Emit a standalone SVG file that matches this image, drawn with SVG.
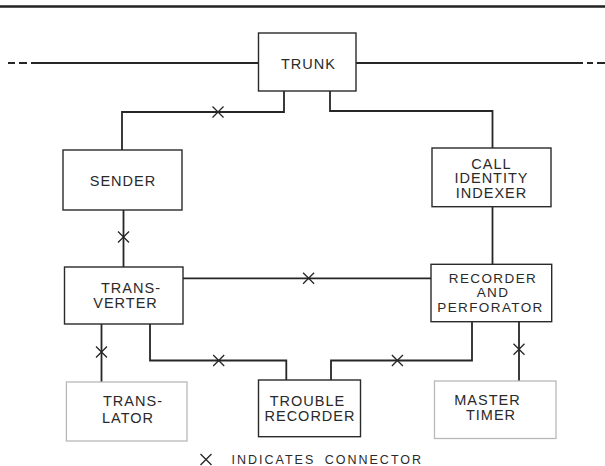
<svg xmlns="http://www.w3.org/2000/svg" width="605" height="466" viewBox="0 0 605 466">
<style>
  .box { fill: #ffffff; stroke: #2a2a2a; stroke-width: 1.4; }
  .box.light { stroke: #b8b8b8; stroke-width: 1.3; }
  .wire { fill: none; stroke: #262626; stroke-width: 1.8; }
  .mark { fill: none; stroke: #262626; stroke-width: 1.3; }
  .lbl { font-family: "Liberation Sans", Arial, sans-serif; font-size: 14.5px; letter-spacing: 1px; fill: #2a2a2a; text-anchor: middle; }
  .lbl.tight { font-size: 13.5px; letter-spacing: 1.4px; }
  .legend { font-family: "Liberation Sans", Arial, sans-serif; font-size: 12.5px; letter-spacing: 2px; word-spacing: 4px; fill: #2a2a2a; }
</style>
<defs>
  <path id="x" class="mark" d="M-5.5,-5.5 L5.5,5.5 M-5.5,5.5 L5.5,-5.5"/>
</defs>
<rect width="605" height="466" fill="#ffffff"/>

<!-- top rule -->
<line x1="0" y1="6.5" x2="605" y2="6.5" stroke="#222" stroke-width="2.5"/>

<g id="connectors">
  <!-- through trunk line -->
  <path class="wire" d="M8,63 H15 M19,63 H27 M31,63 H258.5"/>
  <path class="wire" d="M356,63 H583 M587,63 H593 M597,63 H605"/>
  <!-- trunk to sender -->
  <path class="wire" d="M284,91 V112 H122 V150"/>
  <use href="#x" x="218" y="112"/>
  <!-- trunk to call identity indexer -->
  <path class="wire" d="M330,91 V111 H492.5 V148"/>
  <!-- sender to transverter -->
  <path class="wire" d="M123.5,210 V267"/>
  <use href="#x" x="123.5" y="237"/>
  <!-- transverter to recorder -->
  <path class="wire" d="M183,278.3 H431"/>
  <use href="#x" x="308.6" y="278.3"/>
  <!-- call identity indexer to recorder -->
  <path class="wire" d="M492.5,206.7 V264.3"/>
  <!-- transverter to translator -->
  <path class="wire" d="M101.5,324 V382"/>
  <use href="#x" x="101.5" y="352"/>
  <!-- transverter to trouble recorder -->
  <path class="wire" d="M150,324 V360.5 H286.3 V380"/>
  <use href="#x" x="218.7" y="360.5"/>
  <!-- trouble recorder to recorder -->
  <path class="wire" d="M331,380 V360.5 H472 V321.7"/>
  <use href="#x" x="397.4" y="360.5"/>
  <!-- recorder to master timer -->
  <path class="wire" d="M519,321.7 V381"/>
  <use href="#x" x="519" y="349.3"/>
</g>

<g id="trunk">
  <rect class="box" x="258.5" y="33" width="97.5" height="58"/>
  <text class="lbl" x="308.5" y="68.7">TRUNK</text>
</g>

<g id="sender">
  <rect class="box" x="63" y="150" width="119" height="60"/>
  <text class="lbl" x="123" y="186.3">SENDER</text>
</g>

<g id="call-identity-indexer">
  <rect class="box" x="432" y="148" width="119" height="58.7"/>
  <text class="lbl" x="491.5" y="168.5">CALL</text>
  <text class="lbl" x="491.5" y="183">IDENTITY</text>
  <text class="lbl" x="491.5" y="198">INDEXER</text>
</g>

<g id="transverter">
  <rect class="box" x="64.5" y="267" width="118.5" height="57"/>
  <text class="lbl" x="131" y="293">TRANS-</text>
  <text class="lbl" x="125.5" y="308">VERTER</text>
</g>

<g id="recorder-and-perforator">
  <rect class="box" x="431" y="264.3" width="120.7" height="57.4"/>
  <text class="lbl tight" x="493" y="282.5">RECORDER</text>
  <text class="lbl tight" x="493" y="297.2">AND</text>
  <text class="lbl tight" x="490.5" y="312">PERFORATOR</text>
</g>

<g id="translator">
  <rect class="box light" x="66.4" y="382" width="120.6" height="59"/>
  <text class="lbl" x="133" y="406">TRANS-</text>
  <text class="lbl" x="128" y="422.5">LATOR</text>
</g>

<g id="trouble-recorder">
  <rect class="box" x="258.5" y="380" width="102" height="56.7"/>
  <text class="lbl" x="307.5" y="406">TROUBLE</text>
  <text class="lbl" x="310" y="421.2">RECORDER</text>
</g>

<g id="master-timer">
  <rect class="box light" x="434.5" y="381" width="121.5" height="57.5"/>
  <text class="lbl" x="487.5" y="404.5">MASTER</text>
  <text class="lbl" x="491" y="419.5">TIMER</text>
</g>

<g id="legend">
  <use href="#x" x="206" y="459.5"/>
  <text class="legend" x="231.5" y="464">INDICATES CONNECTOR</text>
</g>
</svg>
